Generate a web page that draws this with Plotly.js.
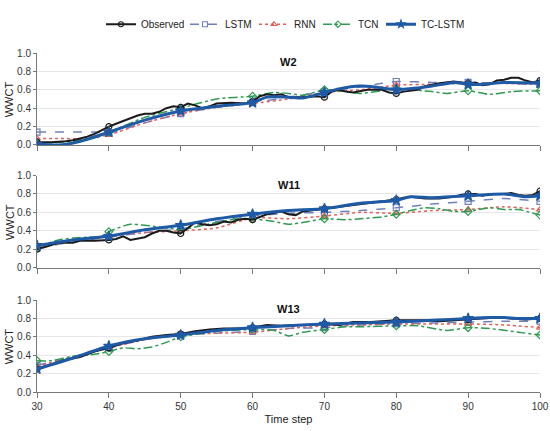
<!DOCTYPE html>
<html>
<head>
<meta charset="utf-8">
<script src="https://cdn.plot.ly/plotly-3.0.1.min.js"></script>
<style>html,body{margin:0;padding:0;background:#fff}#chart{width:550px;height:431px}</style>
</head>
<body>
<div id="chart"></div>
<script>
// ---------- Data ----------
var wellNames = ["W2", "W11", "W13"];
var seriesNames = ["Observed", "LSTM", "RNN", "TCN", "TC-LSTM"];
var xTicks = [30, 40, 50, 60, 70, 80, 90, 100];
var yTicks = [0.0, 0.2, 0.4, 0.6, 0.8, 1.0];

// W2
var obsStepsW2 = [30,32,34,35,36,37,38,39,40,41,42,43,44,45,46,47,48,49,50,51,52,53,54,55,57,59,60,61,62,63,64,65,67,69,70,71,72,73,74,76,78,79,80,81,83,84,86,88,90,91,92,93,94,95,96,97,98,99,100];
var obsW2 = [0.03,0.03,0.04,0.05,0.07,0.09,0.12,0.16,0.20,0.23,0.26,0.29,0.32,0.34,0.34,0.36,0.40,0.42,0.41,0.45,0.43,0.40,0.42,0.45,0.46,0.45,0.47,0.53,0.55,0.54,0.55,0.52,0.52,0.53,0.52,0.58,0.60,0.58,0.57,0.60,0.60,0.57,0.56,0.58,0.60,0.64,0.67,0.69,0.67,0.68,0.65,0.66,0.70,0.71,0.73,0.73,0.70,0.68,0.70];
var lstmStepsW2 = [30,33,36,38,40,45,50,55,60,65,70,75,78,80,85,90,95,100];
var lstmW2 = [0.14,0.14,0.14,0.14,0.13,0.24,0.34,0.41,0.46,0.52,0.58,0.63,0.67,0.69,0.68,0.68,0.67,0.66];
var rnnStepsW2 = [30,33,37,40,45,50,55,60,65,70,75,80,85,90,95,100];
var rnnW2 = [0.07,0.07,0.07,0.11,0.24,0.34,0.41,0.45,0.50,0.57,0.60,0.65,0.66,0.67,0.67,0.66];
var tcnStepsW2 = [30,35,40,45,50,55,60,63,65,67,70,73,75,78,80,85,87,90,93,96,100];
var tcnW2 = [0.02,0.04,0.14,0.30,0.40,0.50,0.53,0.57,0.56,0.54,0.60,0.58,0.56,0.59,0.61,0.58,0.56,0.59,0.55,0.58,0.59];
var tclStepsW2 = [30,33,35,37,40,45,50,55,60,62,65,67,70,72,75,77,80,83,85,88,90,92,95,100];
var tclW2 = [0.01,0.00,0.02,0.06,0.14,0.27,0.37,0.42,0.46,0.52,0.52,0.51,0.57,0.61,0.64,0.63,0.60,0.62,0.64,0.68,0.66,0.66,0.68,0.67];

// W11
var obsStepsW11 = [30,31,33,35,36,38,40,41,42,43,45,46,47,48,49,50,51,52,53,54,55,56,57,58,59,60,62,64,65,66,67,68,70,72,74,76,78,80,81,82,84,86,88,89,90,91,92,93,95,96,97,98,99,100];
var obsW11 = [0.20,0.22,0.27,0.27,0.29,0.29,0.30,0.31,0.34,0.30,0.33,0.37,0.40,0.40,0.38,0.37,0.43,0.49,0.47,0.46,0.47,0.50,0.49,0.52,0.53,0.52,0.58,0.61,0.58,0.57,0.61,0.62,0.64,0.66,0.68,0.70,0.72,0.74,0.76,0.77,0.75,0.75,0.77,0.79,0.80,0.80,0.78,0.80,0.80,0.81,0.79,0.78,0.79,0.83];
var lstmStepsW11 = [30,35,40,45,50,55,60,65,70,75,80,85,90,95,100];
var lstmW11 = [0.21,0.28,0.33,0.38,0.42,0.50,0.56,0.59,0.60,0.62,0.65,0.69,0.72,0.75,0.72];
var rnnStepsW11 = [30,35,40,45,50,55,60,65,70,75,80,85,90,95,100];
var rnnW11 = [0.22,0.29,0.34,0.38,0.40,0.43,0.54,0.53,0.56,0.60,0.59,0.62,0.63,0.66,0.63];
var tcnStepsW11 = [30,33,35,37,39,40,42,43,45,47,49,50,55,58,60,63,65,67,70,73,75,78,80,82,84,86,88,90,93,95,97,100];
var tcnW11 = [0.22,0.30,0.32,0.33,0.34,0.39,0.45,0.47,0.46,0.44,0.42,0.41,0.49,0.53,0.53,0.50,0.47,0.49,0.53,0.52,0.53,0.55,0.58,0.62,0.65,0.64,0.61,0.61,0.65,0.63,0.63,0.57];
var tclStepsW11 = [30,35,40,45,50,55,60,65,70,75,80,82,85,90,95,98,100];
var tclW11 = [0.24,0.30,0.34,0.41,0.46,0.53,0.58,0.62,0.64,0.70,0.73,0.77,0.76,0.78,0.80,0.77,0.78];

// W13
var obsStepsW13 = [30,32,34,36,38,40,42,44,46,48,50,52,54,56,58,60,62,64,66,68,70,72,74,76,78,80,82,84,86,88,90,92,94,96,98,100];
var obsW13 = [0.25,0.30,0.35,0.38,0.44,0.48,0.53,0.56,0.60,0.62,0.63,0.66,0.68,0.69,0.69,0.70,0.73,0.72,0.73,0.73,0.74,0.73,0.76,0.76,0.77,0.78,0.78,0.78,0.77,0.78,0.79,0.80,0.81,0.80,0.79,0.80];
var lstmStepsW13 = [30,35,40,45,50,55,60,65,70,75,80,85,90,95,100];
var lstmW13 = [0.29,0.38,0.48,0.57,0.62,0.64,0.66,0.69,0.70,0.73,0.74,0.75,0.76,0.77,0.77];
var rnnStepsW13 = [30,35,40,45,50,55,60,65,70,75,80,85,90,95,100];
var rnnW13 = [0.28,0.38,0.48,0.57,0.62,0.64,0.65,0.69,0.72,0.73,0.74,0.74,0.74,0.73,0.70];
var tcnStepsW13 = [30,32,35,38,40,42,44,46,48,50,55,60,63,65,67,70,73,75,80,83,87,90,93,97,100];
var tcnW13 = [0.34,0.34,0.39,0.41,0.44,0.48,0.47,0.49,0.54,0.60,0.66,0.68,0.67,0.61,0.65,0.68,0.71,0.71,0.72,0.72,0.67,0.70,0.69,0.65,0.62];
var tclStepsW13 = [30,35,40,45,50,55,60,65,70,75,80,85,90,93,95,97,100];
var tclW13 = [0.25,0.37,0.50,0.58,0.62,0.67,0.70,0.72,0.74,0.75,0.76,0.78,0.80,0.81,0.81,0.80,0.80];

// ---------- Styles ----------
var FONT = "Liberation Sans, Arial, sans-serif";
var styles = {
  "Observed": {color: "#1a1a1a", width: 2, dash: "solid", symbol: "circle-open", shape: "linear", msize: 6, lsize: 5, lw: 39},
  "LSTM":     {color: "#6f80c0", width: 1.5, dash: "dash", symbol: "square-open", shape: "spline", msize: 6, lsize: 5, lw: 24},
  "RNN":      {color: "#e0605a", width: 1.5, dash: "dot", symbol: "triangle-up-open", shape: "spline", msize: 6, lsize: 5, lw: 19},
  "TCN":      {color: "#2f9a50", width: 1.5, dash: "dashdot", symbol: "diamond-open", shape: "spline", msize: 6, lsize: 5, lw: 18},
  "TC-LSTM":  {color: "#1f5aa6", width: 3, dash: "solid", symbol: "star", shape: "spline", msize: 8, lsize: 6, lw: 40}
};

var wells = [
  {name: "W2", series: [[obsStepsW2, obsW2], [lstmStepsW2, lstmW2], [rnnStepsW2, rnnW2], [tcnStepsW2, tcnW2], [tclStepsW2, tclW2]]},
  {name: "W11", series: [[obsStepsW11, obsW11], [lstmStepsW11, lstmW11], [rnnStepsW11, rnnW11], [tcnStepsW11, tcnW11], [tclStepsW11, tclW11]]},
  {name: "W13", series: [[obsStepsW13, obsW13], [lstmStepsW13, lstmW13], [rnnStepsW13, rnnW13], [tcnStepsW13, tcnW13], [tclStepsW13, tclW13]]}
];

var traces = [];
var order = [1, 2, 3, 0, 4]; // drawing order: models, observed, TC-LSTM on top
wells.forEach(function (w, wi) {
  var xa = wi === 0 ? "x" : "x" + (wi + 1);
  var ya = wi === 0 ? "y" : "y" + (wi + 1);
  order.forEach(function (si) {
    var nm = seriesNames[si];
    var st = styles[nm];
    var xs = w.series[si][0], ys = w.series[si][1];
    traces.push({
      type: "scatter", mode: "lines", x: xs, y: ys, xaxis: xa, yaxis: ya,
      line: {color: st.color, width: st.width, dash: st.dash, shape: st.shape, smoothing: 0.6},
      showlegend: false, hoverinfo: "skip"
    });
    var mx = [], my = [];
    xs.forEach(function (v, i) { if (v % 10 === 0) { mx.push(v); my.push(ys[i]); } });
    traces.push({
      type: "scatter", mode: "markers", x: mx, y: my, xaxis: xa, yaxis: ya,
      marker: {symbol: st.symbol, size: st.msize, color: st.color,
               line: {color: st.color, width: 1.2}},
      showlegend: false, hoverinfo: "skip"
    });
  });
});
// legend entries
seriesNames.forEach(function (nm) {
  var st = styles[nm];
  traces.push({
    type: "scatter", mode: "lines+markers", x: [null], y: [null], name: nm,
    legendwidth: st.lw,
    line: {color: st.color, width: st.width, dash: st.dash},
    marker: {symbol: st.symbol, size: st.lsize, color: st.color, line: {color: st.color, width: 1.1}},
    showlegend: true, hoverinfo: "skip"
  });
});

var axisFont = {family: FONT, size: 10, color: "#333"};
function xAxis(showLabels, anchor) {
  return {
    domain: [0, 1], anchor: anchor, range: [30, 100], tickvals: xTicks,
    showticklabels: showLabels, ticks: "outside", ticklen: 5, tickcolor: "#777",
    showline: true, linecolor: "#777", linewidth: 1, showgrid: false, zeroline: false,
    tickfont: axisFont
  };
}
function yAxis(domain, anchor) {
  return {
    domain: domain, anchor: anchor, range: [0, 1], tickvals: yTicks, tickformat: ".1f",
    ticks: "outside", ticklen: 3, tickcolor: "#777",
    showline: true, linecolor: "#777", linewidth: 1,
    showgrid: true, gridcolor: "#e8e8e8", gridwidth: 1, zeroline: false,
    tickfont: axisFont
  };
}

var xa3 = xAxis(true, "y3");
xa3.title = {text: "Time step", font: {family: FONT, size: 11, color: "#222"}, standoff: 4};

var annotations = [];
wellNames.forEach(function (nm, i) {
  var xr = i === 0 ? "x" : "x" + (i + 1), yr = i === 0 ? "y" : "y" + (i + 1);
  annotations.push({text: "<b>" + nm + "</b>", x: 65, y: 0.9, xref: xr, yref: yr, showarrow: false,
                    font: {family: FONT, size: 11, color: "#111"}});
  annotations.push({text: "WWCT", textangle: -90, xref: "paper", x: -0.055, xanchor: "center",
                    yref: yr + " domain", y: 0.5, yanchor: "middle", showarrow: false,
                    font: {family: FONT, size: 11, color: "#222"}});
});

var layout = {
  width: 550, height: 431,
  margin: {l: 37, r: 10, t: 38, b: 39},
  paper_bgcolor: "#fff", plot_bgcolor: "#fff",
  font: {family: FONT, color: "#222"},
  showlegend: true,
  legend: {orientation: "h", x: 0.49, xanchor: "center", y: 1.085, yanchor: "middle",
           font: {family: FONT, size: 10, color: "#222"},
           itemwidth: 30, tracegroupgap: 0, bgcolor: "rgba(0,0,0,0)"},
  xaxis: xAxis(false, "y"),
  xaxis2: xAxis(false, "y2"),
  xaxis3: xa3,
  yaxis: yAxis([0.7288, 1], "x"),
  yaxis2: yAxis([0.3672, 0.6384], "x2"),
  yaxis3: yAxis([0, 0.2712], "x3"),
  annotations: annotations
};

Plotly.newPlot("chart", traces, layout, {staticPlot: true, displayModeBar: false});
</script>
</body>
</html>
